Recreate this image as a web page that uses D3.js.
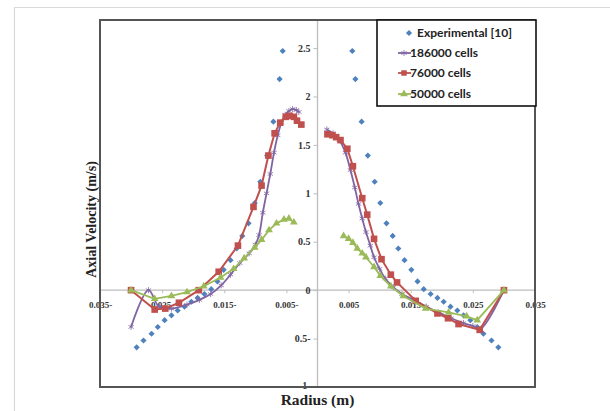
<!DOCTYPE html>
<html>
<head>
<meta charset="utf-8">
<script src="https://cdn.jsdelivr.net/npm/d3@7"></script>
<style>
  html, body { margin: 0; padding: 0; background: #fff; }
  svg { display: block; }
</style>
</head>
<body>
<svg id="chart" width="610" height="411"></svg>
<script>
// Experimental profile [10], both sides of the axis
const expLeftR  = [-0.0291, -0.0280, -0.0267, -0.0257, -0.0246, -0.0235, -0.0225, -0.0214, -0.0203, -0.0193, -0.0182, -0.0171, -0.0161, -0.0151, -0.0140, -0.0130, -0.0121, -0.0111, -0.0101, -0.0092, -0.0081, -0.0071, -0.0061, -0.0056];
const expLeftV  = [-0.59, -0.52, -0.45, -0.38, -0.31, -0.26, -0.21, -0.17, -0.12, -0.08, -0.04, 0.01, 0.09, 0.21, 0.31, 0.43, 0.56, 0.69, 0.90, 1.12, 1.39, 1.74, 2.18, 2.47];
const expRightR = [0.0056, 0.0061, 0.0071, 0.0081, 0.0092, 0.0101, 0.0111, 0.0121, 0.0130, 0.0140, 0.0151, 0.0161, 0.0171, 0.0182, 0.0193, 0.0203, 0.0214, 0.0225, 0.0235, 0.0246, 0.0257, 0.0267, 0.0280, 0.0291];
const expRightV = [2.47, 2.18, 1.74, 1.39, 1.12, 0.90, 0.69, 0.56, 0.43, 0.31, 0.21, 0.09, 0.01, -0.04, -0.08, -0.12, -0.17, -0.21, -0.26, -0.31, -0.38, -0.45, -0.52, -0.59];

// 186000 cells
const fineLeftR  = [-0.0300, -0.0272, -0.0255, -0.0235, -0.0210, -0.0190, -0.0172, -0.0155, -0.0140, -0.0125, -0.0110, -0.0100, -0.0094, -0.0088, -0.0082, -0.0076, -0.0070, -0.0064, -0.0058, -0.0052, -0.0046, -0.0040, -0.0034, -0.0030];
const fineLeftV  = [-0.38, 0.00, -0.17, -0.19, -0.15, -0.10, -0.04, 0.05, 0.16, 0.28, 0.38, 0.47, 0.57, 0.80, 1.00, 1.20, 1.42, 1.60, 1.73, 1.81, 1.85, 1.87, 1.86, 1.84];
const fineRightR = [0.0015, 0.0025, 0.0035, 0.0045, 0.0053, 0.0060, 0.0066, 0.0072, 0.0078, 0.0085, 0.0091, 0.0100, 0.0109, 0.0122, 0.0136, 0.0155, 0.0175, 0.0195, 0.0215, 0.0235, 0.0250, 0.0262, 0.0300];
const fineRightV = [1.66, 1.62, 1.55, 1.42, 1.24, 1.06, 0.89, 0.74, 0.60, 0.46, 0.34, 0.22, 0.12, 0.03, -0.04, -0.10, -0.17, -0.23, -0.29, -0.34, -0.37, -0.40, 0.00];

// 76000 cells
const midLeftR  = [-0.0300, -0.0262, -0.0245, -0.0223, -0.0191, -0.0159, -0.0128, -0.0103, -0.0090, -0.0079, -0.0069, -0.0060, -0.0051, -0.0045, -0.0038, -0.0033, -0.0026];
const midLeftV  = [0.00, -0.20, -0.19, -0.13, 0.00, 0.19, 0.46, 0.86, 1.08, 1.39, 1.62, 1.73, 1.79, 1.80, 1.79, 1.75, 1.71];
const midRightR = [0.0016, 0.0024, 0.0030, 0.0037, 0.0048, 0.0057, 0.0072, 0.0080, 0.0091, 0.0103, 0.0118, 0.0128, 0.0158, 0.0193, 0.0210, 0.0227, 0.0261, 0.0300];
const midRightV = [1.61, 1.60, 1.58, 1.55, 1.46, 1.28, 0.95, 0.78, 0.53, 0.32, 0.16, 0.08, -0.11, -0.24, -0.29, -0.35, -0.41, 0.00];

// 50000 cells
const coarseLeftR  = [-0.0300, -0.0262, -0.0235, -0.0210, -0.0183, -0.0156, -0.0135, -0.0118, -0.0101, -0.0090, -0.0078, -0.0066, -0.0054, -0.0046, -0.0038];
const coarseLeftV  = [0.00, -0.09, -0.06, -0.02, 0.04, 0.13, 0.22, 0.33, 0.44, 0.52, 0.62, 0.69, 0.73, 0.74, 0.70];
const coarseRightR = [0.0042, 0.0050, 0.0057, 0.0064, 0.0072, 0.0078, 0.0091, 0.0101, 0.0118, 0.0138, 0.0174, 0.0211, 0.0240, 0.0257, 0.0300];
const coarseRightV = [0.56, 0.53, 0.49, 0.43, 0.38, 0.34, 0.24, 0.15, 0.04, -0.06, -0.19, -0.23, -0.27, -0.31, 0.00];

const seriesNames = ["Experimental [10]", "186000 cells", "76000 cells", "50000 cells"];
const xTickValues = [-0.035, -0.025, -0.015, -0.005, 0.005, 0.015, 0.025, 0.035];
const yTickValues = [-1, -0.5, 0, 0.5, 1, 1.5, 2, 2.5];

const svg = d3.select("#chart");
const W = 610, H = 411;
const plot = { left: 100, top: 20, right: 535, bottom: 387 };

const x = d3.scaleLinear().domain([-0.035, 0.035]).range([plot.left, plot.right]);
const y = d3.scaleLinear().domain([-1, 2.79]).range([plot.bottom, plot.top]);

const zip = (a, b) => a.map((v, i) => [v, b[i]]);

const colors = { exp: "#4F81BD", fine: "#8064A2", mid: "#C0504D", coarse: "#9BBB59" };

// chart area edge
svg.append("path")
  .attr("d", `M14.5,${H} V7.5 H${W}`)
  .attr("fill", "none").attr("stroke", "#d9d9d9").attr("stroke-width", 1.2);

// axes crossing at the origin
const x0 = x(0), y0 = y(0);
svg.append("line").attr("x1", x0).attr("x2", x0).attr("y1", plot.top).attr("y2", plot.bottom)
  .attr("stroke", "#bdbdbd").attr("stroke-width", 1.3);
svg.append("line").attr("x1", plot.left).attr("x2", plot.right).attr("y1", y0).attr("y2", y0)
  .attr("stroke", "#bdbdbd").attr("stroke-width", 1.3);

const fmtSigned = (d, p) => {
  const s = d3.format(p)(Math.abs(d));
  return d < 0 ? s + "-" : s;
};

const yAxis = d3.axisLeft(y).tickValues(yTickValues).tickSize(4).tickPadding(3)
  .tickFormat(d => fmtSigned(d, "~g"));
const gy = svg.append("g").attr("transform", `translate(${x0},0)`).call(yAxis);
gy.select(".domain").remove();
gy.selectAll(".tick line").attr("stroke", "#bdbdbd");
gy.selectAll(".tick text")
  .attr("font-family", "'Liberation Serif', serif").attr("font-weight", "bold")
  .attr("font-size", 10).attr("fill", "#333");
// the lowest label sits on the frame; nudge it up a touch
gy.selectAll(".tick").filter(d => d === -1).select("text").attr("dy", "0.1em");

const xAxis = d3.axisBottom(x).tickValues(xTickValues).tickSize(3).tickPadding(8)
  .tickFormat(d => fmtSigned(d, ".3f"));
const gx = svg.append("g").attr("transform", `translate(0,${y0})`).call(xAxis);
gx.select(".domain").remove();
gx.selectAll(".tick line").attr("stroke", "#bdbdbd");
gx.selectAll(".tick text")
  .attr("font-family", "'Liberation Serif', serif").attr("font-weight", "bold")
  .attr("font-size", 9).attr("fill", "#333");

// series
const line = d3.line().x(d => x(d[0])).y(d => y(d[1]));
const smooth = d3.line().x(d => x(d[0])).y(d => y(d[1])).curve(d3.curveCatmullRom.alpha(0.5));

const marks = svg.append("g");

// experimental points: small squares turned 45 degrees
const diamond = d3.symbol().type(d3.symbolSquare).size(19);
[zip(expLeftR, expLeftV), zip(expRightR, expRightV)].forEach(pts => {
  marks.append("g").selectAll("path").data(pts).join("path")
    .attr("d", diamond)
    .attr("transform", d => `translate(${x(d[0])},${y(d[1])}) rotate(45)`)
    .attr("fill", colors.exp);
});

// 186000 cells
const star = d3.symbol().type(d3.symbolAsterisk).size(26);
[zip(fineLeftR, fineLeftV), zip(fineRightR, fineRightV)].forEach(pts => {
  marks.append("path").datum(pts).attr("d", smooth)
    .attr("fill", "none").attr("stroke", colors.fine).attr("stroke-width", 1.8);
  marks.append("g").selectAll("path").data(pts).join("path")
    .attr("d", star)
    .attr("transform", d => `translate(${x(d[0])},${y(d[1])})`)
    .attr("fill", "none").attr("stroke", colors.fine).attr("stroke-width", 0.8);
});

// 76000 cells
const square = d3.symbol().type(d3.symbolSquare).size(44);
[zip(midLeftR, midLeftV), zip(midRightR, midRightV)].forEach(pts => {
  marks.append("path").datum(pts).attr("d", line)
    .attr("fill", "none").attr("stroke", colors.mid).attr("stroke-width", 2);
  marks.append("g").selectAll("path").data(pts).join("path")
    .attr("d", square)
    .attr("transform", d => `translate(${x(d[0])},${y(d[1])})`)
    .attr("fill", colors.mid);
});

// 50000 cells
const tri = d3.symbol().type(d3.symbolTriangle).size(26);
[zip(coarseLeftR, coarseLeftV), zip(coarseRightR, coarseRightV)].forEach(pts => {
  marks.append("path").datum(pts).attr("d", line)
    .attr("fill", "none").attr("stroke", colors.coarse).attr("stroke-width", 1.8);
  marks.append("g").selectAll("path").data(pts).join("path")
    .attr("d", tri)
    .attr("transform", d => `translate(${x(d[0])},${y(d[1])})`)
    .attr("fill", colors.coarse);
});

// plot frame
svg.append("rect")
  .attr("x", plot.left).attr("y", plot.top)
  .attr("width", plot.right - plot.left).attr("height", plot.bottom - plot.top)
  .attr("fill", "none").attr("stroke", "#555").attr("stroke-width", 2);

// axis titles
svg.append("text")
  .attr("x", (plot.left + plot.right) / 2).attr("y", 405)
  .attr("text-anchor", "middle")
  .attr("font-family", "'Liberation Serif', serif").attr("font-weight", "bold")
  .attr("font-size", 15.5).attr("fill", "#222")
  .text("Radius (m)");

svg.append("text")
  .attr("transform", `translate(96,${(plot.top + plot.bottom) / 2 + 16}) rotate(-90)`)
  .attr("text-anchor", "middle")
  .attr("font-family", "'Liberation Serif', serif").attr("font-weight", "bold")
  .attr("font-size", 14).attr("fill", "#222")
  .text("Axial Velocity (m/s)");

// legend
const lg = svg.append("g");
lg.append("rect").attr("x", 377).attr("y", 20).attr("width", 159).attr("height", 86)
  .attr("fill", "#fff").attr("stroke", "#111").attr("stroke-width", 1.6);

const legendRows = [
  { name: seriesNames[0], color: colors.exp, sym: diamond, rot: 45, fill: true, lineOn: false, y: 33 },
  { name: seriesNames[1], color: colors.fine, sym: star, rot: 0, fill: false, lineOn: true, y: 53 },
  { name: seriesNames[2], color: colors.mid, sym: d3.symbol().type(d3.symbolSquare).size(30), rot: 0, fill: true, lineOn: true, y: 73 },
  { name: seriesNames[3], color: colors.coarse, sym: tri, rot: 0, fill: true, lineOn: true, y: 94 }
];
legendRows.forEach(r => {
  const cx = r.lineOn ? 404 : 409;
  if (r.lineOn) {
    lg.append("line").attr("x1", 398).attr("x2", 411).attr("y1", r.y).attr("y2", r.y)
      .attr("stroke", r.color).attr("stroke-width", 1.8);
  }
  lg.append("path").attr("d", r.sym())
    .attr("transform", `translate(${cx},${r.y}) rotate(${r.rot})`)
    .attr("fill", r.fill ? r.color : "none")
    .attr("stroke", r.fill ? "none" : r.color).attr("stroke-width", 0.8);
  lg.append("text")
    .attr("x", r.lineOn ? 410 : 417).attr("y", r.y + 4)
    .attr("font-family", "Lato, sans-serif").attr("font-weight", "bold")
    .attr("font-size", 12).attr("fill", "#222")
    .text(r.name);
});
</script>
</body>
</html>
